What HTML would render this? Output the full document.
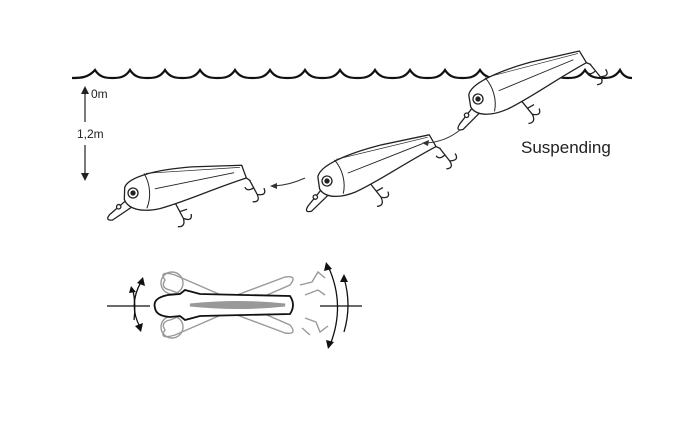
<!DOCTYPE html>
<html><head><meta charset="utf-8"><style>
html,body{margin:0;padding:0;background:#fff;}
svg{display:block;}
text{font-family:"Liberation Sans",sans-serif;fill:#222;}
</style></head><body>
<svg width="700" height="435" viewBox="0 0 700 435" xmlns="http://www.w3.org/2000/svg">
<defs>
<g id="lure" fill="none" stroke="#222" stroke-width="1.3" stroke-linejoin="round">
  <!-- tail hook -->
  <path d="M110,-12 L118,-6 M117,-7 L124,8 M124,8 Q127,16 119,15 M124,8 Q134,10 131,2 M121,1 Q114,5 112,0" />
  <!-- belly hook -->
  <path d="M42,13 L49,28 M49,28 Q51,37 43,36 M49,28 Q58,32 57,24 M46,21 L53,19" />
  <path d="M-6,6 L-24,20 Q-30,26 -22,26 L-2,14 Z" fill="#fff"/>
  <circle cx="-15" cy="13" r="2.2" fill="#fff"/>
  <path d="M-8,-6 C-4,-16 22,-22 60,-23 L110,-22 L114,-9 C80,0 50,12 26,17 C8,20 -6,16 -9,6 Z" fill="#fff"/>
  <path d="M12,-19 C18,-8 18,6 13,16" stroke-width="1"/>
  <path d="M22,-3 L102,-15" stroke-width="0.9"/>
  <path d="M14,-19 L108,-20" stroke-width="0.7"/>
  <circle cx="0" cy="0" r="5" fill="#fff"/>
  <circle cx="0" cy="0" r="2" fill="#222"/>
</g>
</defs>
<!-- waves -->
<path fill="none" stroke="#111" stroke-width="2.2" d="M72,78 C80,78 88,78 95,70
C100,78 107,78 112.5,78 C118,78 125,78 130,70
C135,78 142,78 147.5,78 C153,78 160,78 165,70
C170,78 177,78 182.5,78 C188,78 195,78 200,70
C205,78 212,78 217.5,78 C223,78 230,78 235,70
C240,78 247,78 252.5,78 C258,78 265,78 270,70
C275,78 282,78 287.5,78 C293,78 300,78 305,70
C310,78 317,78 322.5,78 C328,78 335,78 340,70
C345,78 352,78 357.5,78 C363,78 370,78 375,70
C380,78 387,78 392.5,78 C398,78 405,78 410,70
C415,78 422,78 427.5,78 C433,78 440,78 445,70
C450,78 457,78 462.5,78 C468,78 475,78 480,70
C485,78 492,78 497.5,78 C503,78 510,78 515,70
C520,78 527,78 532.5,78 C538,78 545,78 550,70
C555,78 562,78 567.5,78 C573,78 580,78 585,70
C590,78 597,78 602.5,78 C608,78 615,78 620,70
C623,76 627,78 632,78"/>
<!-- lures -->
<use href="#lure" transform="translate(478,99) rotate(-14)"/>
<use href="#lure" transform="translate(327,181) rotate(-13)"/>
<use href="#lure" transform="translate(133,193) rotate(-3)"/>
<!-- motion arrows -->
<g fill="none" stroke="#333" stroke-width="1">
<path d="M460,130 Q445,142 426,143"/>
<path d="M305,178 Q290,185 274,186"/>
</g>
<path d="M422,143 L429,140 L428,146 Z" fill="#333"/>
<path d="M270,186 L277,183 L277,189 Z" fill="#333"/>
<!-- depth -->
<g stroke="#222" stroke-width="1.2">
<line x1="85" y1="92" x2="85" y2="122"/>
<line x1="85" y1="145" x2="85" y2="175"/>
</g>
<path d="M85,86 L81,94 L89,94 Z M85,181 L81,173 L89,173 Z" fill="#222"/>
<text x="91" y="98" font-size="12">0m</text>
<text x="77" y="138" font-size="12">1,2m</text>
<text x="521" y="153" font-size="17">Suspending</text>
<!-- top view -->
<g fill="none" stroke="#999" stroke-width="1.4">
<path d="M165,280 Q158,270 175,275 L290,325 Q298,335 285,333 L170,290 Q160,288 165,280 Z"/>
<path d="M165,330 Q158,340 175,335 L290,285 Q298,275 285,277 L170,320 Q160,322 165,330 Z"/>
<circle cx="172" cy="283" r="11"/>
<circle cx="172" cy="327" r="11"/>
<path d="M300,285 L312,282 L318,272 L325,278 M305,295 L318,290 L325,295 M305,318 L316,322 L320,332 L328,326 M302,328 L310,335"/>
</g>
<path d="M168,295 Q152,298 155,308 Q156,316 170,317 L180,316 L185,320 L200,316 L290,314 Q296,305 290,296 L200,294 L185,290 L180,294 Z" fill="#fff" stroke="#111" stroke-width="1.8"/>
<path d="M190,305 Q240,300 285,305 Q240,310 190,305 Z" fill="#999" stroke="#999" stroke-width="3"/>
<g stroke="#111" stroke-width="1.3" fill="none">
<line x1="107" y1="306" x2="150" y2="306"/>
<line x1="320" y1="306" x2="362" y2="306"/>
<path d="M141,282 Q128,305 140,327"/>
<path d="M133,290 Q136,305 134,320"/>
<path d="M328,266 Q346,305 330,345"/>
<path d="M344,278 Q352,305 344,332"/>
</g>
<g fill="#111">
<path d="M143,277 L137,283 L145,286 Z M131,286 L129,293 L136,292 Z M141,332 L135,326 L143,323 Z"/>
<path d="M326,262 L324,271 L332,269 Z M344,274 L340,282 L348,282 Z M328,349 L326,340 L334,342 Z"/>
</g>
</svg>
</body></html>
